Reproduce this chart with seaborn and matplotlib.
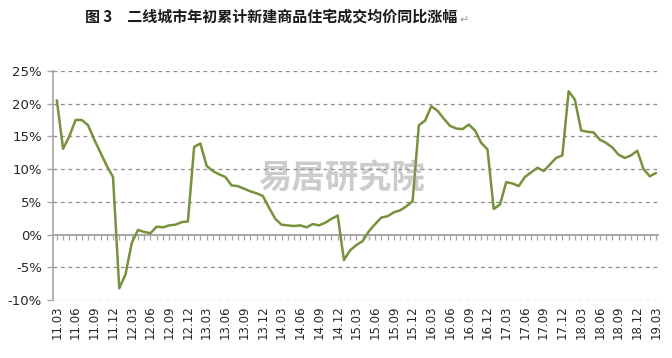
import matplotlib
matplotlib.use("Agg")
import matplotlib.pyplot as plt
import seaborn as sns
import pandas as pd
import numpy as np
from matplotlib.ticker import FixedLocator, FuncFormatter

# ---- data ----
tick_labels = ["11.03", "11.06", "11.09", "11.12", "12.03", "12.06", "12.09", "12.12",
               "13.03", "13.06", "13.09", "13.12", "14.03", "14.06", "14.09", "14.12",
               "15.03", "15.06", "15.09", "15.12", "16.03", "16.06", "16.09", "16.12",
               "17.03", "17.06", "17.09", "17.12", "18.03", "18.06", "18.09", "18.12",
               "19.03"]
values = [20.5, 13.1, 15.0, 17.5, 17.5, 16.7, 14.5, 12.5, 10.5, 8.8,
          -8.2, -6.1, -1.3, 0.7, 0.4, 0.2, 1.2, 1.1, 1.4, 1.5,
          1.9, 2.0, 13.4, 13.9, 10.5, 9.7, 9.2, 8.8, 7.5, 7.4,
          7.0, 6.6, 6.3, 5.9, 4.1, 2.4, 1.5, 1.4, 1.3, 1.4,
          1.1, 1.6, 1.4, 1.8, 2.4, 2.9, -3.9, -2.4, -1.6, -1.0,
          0.5, 1.6, 2.6, 2.8, 3.4, 3.7, 4.3, 5.1, 16.7, 17.4,
          19.6, 18.9, 17.7, 16.6, 16.2, 16.1, 16.8, 15.9, 14.0, 13.0,
          3.9, 4.6, 8.0, 7.8, 7.4, 8.8, 9.5, 10.2, 9.7, 10.7,
          11.7, 12.1, 21.9, 20.6, 15.9, 15.7, 15.6, 14.5, 14.0, 13.3,
          12.2, 11.7, 12.1, 12.8, 10.0, 8.9, 9.4]
yticks = [-10, -5, 0, 5, 10, 15, 20, 25]
title = "图 3　二线城市年初累计新建商品住宅成交均价同比涨幅"
watermark = "易居研究院"

df = pd.DataFrame({"idx": np.arange(len(values)), "val": values})

sns.set_theme(style="white")
plt.rcParams["font.family"] = ["DejaVu Sans"]

fig = plt.figure(figsize=(6.72, 3.58), dpi=100)
ax = fig.add_axes([0.079, 0.162, 0.900, 0.640])

# grid lines (dashed), except zero
for yv in yticks:
    if yv != 0:
        ax.axhline(yv, color="#8c8c8c", lw=0.9, ls=(0, (3, 3)), zorder=1)

sns.lineplot(data=df, x="idx", y="val", ax=ax, color="#76923C", lw=1.8, zorder=3)

ax.set_xlim(-0.6, len(values) - 0.7)
ax.set_ylim(-10, 25)
ax.set_xlabel("")
ax.set_ylabel("")

# spines
for s in ["top", "right"]:
    ax.spines[s].set_visible(False)
ax.spines["left"].set_color("#a6a6a6")
ax.spines["left"].set_linewidth(1.2)
ax.spines["bottom"].set_position(("data", 0))
ax.spines["bottom"].set_color("#a6a6a6")
ax.spines["bottom"].set_linewidth(1.4)

ax.yaxis.set_major_locator(FixedLocator(yticks))
ax.yaxis.set_major_formatter(FuncFormatter(lambda v, p: f"{int(v)}%"))
ax.tick_params(axis="y", left=True, length=4, width=1, color="#a6a6a6",
               labelsize=9.5, labelcolor="#262626", pad=4)

# monthly tick marks on the zero line, no labels
ax.xaxis.set_major_locator(FixedLocator(np.arange(len(values))))
ax.tick_params(axis="x", bottom=True, length=3.5, width=0.9, color="#a6a6a6",
               direction="out", labelbottom=False)

# labels at bottom every 3 months
sec = ax.secondary_xaxis(0.0)
sec.xaxis.set_major_locator(FixedLocator(np.arange(0, len(values), 3)))
sec.set_xticklabels(tick_labels, rotation=90, fontsize=8.5, color="#262626")
sec.tick_params(axis="x", length=0, pad=4)
sec.spines["bottom"].set_visible(False)

# watermark
fig.text(0.509, 0.503, watermark, fontsize=24, fontweight="bold",
         family=["Noto Sans CJK SC", "DejaVu Sans"], color="#9a9a9a", alpha=0.5,
         ha="center", va="center", zorder=0)

# title
fig.text(0.127, 0.955, title, fontsize=10.8, fontweight="bold",
         family=["Noto Sans CJK SC", "DejaVu Sans"], color="#1a1a1a",
         ha="left", va="center")
fig.text(0.683, 0.945, "↵", fontsize=8, family=["DejaVu Sans"], color="#999999",
         ha="left", va="center")

fig.savefig("out.png", dpi=100)
